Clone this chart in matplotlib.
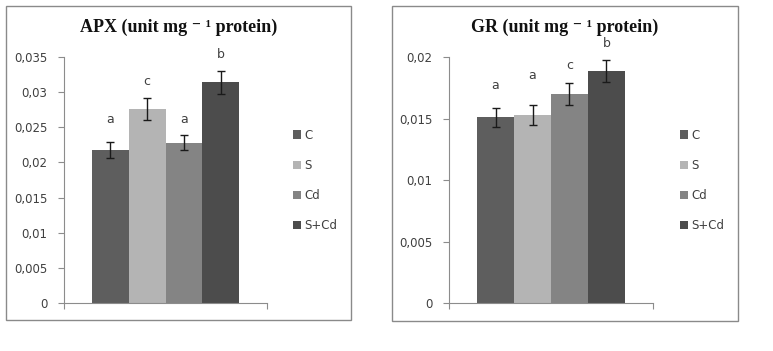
import matplotlib.pyplot as plt
from matplotlib.patches import Rectangle, Patch

# Treatments and colours (Excel-style greyscale)
groups = ["C", "S", "Cd", "S+Cd"]
colors = ["#5e5e5e", "#b4b4b4", "#848484", "#4c4c4c"]

# APX activity (unit mg-1 protein)
apx_mean = [0.0218, 0.0276, 0.0228, 0.0314]
apx_err = [0.0011, 0.0015, 0.0011, 0.0016]
apx_letters = ["a", "c", "a", "b"]
apx_letter_y = [0.0252, 0.0306, 0.0252, 0.0344]
apx_ticks = [0, 0.005, 0.01, 0.015, 0.02, 0.025, 0.03, 0.035]
apx_ticklabels = ["0", "0,005", "0,01", "0,015", "0,02", "0,025", "0,03", "0,035"]

# GR activity (unit mg-1 protein)
gr_mean = [0.0151, 0.0153, 0.0170, 0.0189]
gr_err = [0.0008, 0.0008, 0.0009, 0.0009]
gr_letters = ["a", "a", "c", "b"]
gr_letter_y = [0.0172, 0.0180, 0.0188, 0.0206]
gr_ticks = [0, 0.005, 0.01, 0.015, 0.02]
gr_ticklabels = ["0", "0,005", "0,01", "0,015", "0,02"]

W, H = 773, 351
fig = plt.figure(figsize=(W / 100, H / 100), dpi=100)

txt = "#404040"
axcol = "#8c8c8c"
title_font = ["Liberation Serif", "DejaVu Serif"]


def px_axes(x0, y_top, x1, y_bot):
    return fig.add_axes([x0 / W, (H - y_bot) / H, (x1 - x0) / W, (y_bot - y_top) / H])


def panel(box, axbox, title, mean, err, letters, letter_y, ticks, ticklabels, leg_x):
    # outer chart frame
    bx0, by0, bx1, by1 = box
    fig.patches.append(Rectangle((bx0 / W, (H - by1) / H), (bx1 - bx0) / W, (by1 - by0) / H,
                                 transform=fig.transFigure, fill=False,
                                 edgecolor="#8a8a8a", linewidth=1.0))
    ax = px_axes(*axbox)
    x = list(range(len(groups)))
    ax.bar(x, mean, width=1.0, color=colors, yerr=err, capsize=3,
           error_kw=dict(ecolor="#1a1a1a", elinewidth=1.0, capthick=1.0))
    for xi, lab, yl in zip(x, letters, letter_y):
        ax.text(xi, yl, lab, ha="center", va="bottom", fontsize=9, color=txt)
    ax.set_xlim(-1.26, 4.26)
    ax.set_ylim(0, ticks[-1])
    ax.set_yticks(ticks)
    ax.set_yticklabels(ticklabels)
    ax.set_xticks([-1.26, 4.26])
    ax.set_xticklabels([])
    ax.tick_params(axis="y", direction="out", length=4, color=axcol, labelsize=8.5,
                   labelcolor=txt, pad=8)
    ax.tick_params(axis="x", direction="out", length=4, color=axcol)
    for s in ["top", "right"]:
        ax.spines[s].set_visible(False)
    for s in ["left", "bottom"]:
        ax.spines[s].set_color(axcol)
    ax.set_facecolor("none")
    fig.text((bx0 + bx1) / 2 / W, (H - 27) / H, title, ha="center", va="center",
             fontsize=13, fontweight="bold", family=title_font, color="#111111")
    handles = [Patch(facecolor=c, edgecolor="none") for c in colors]
    leg = fig.legend(handles, groups, loc="upper left",
                     bbox_to_anchor=(leg_x / W, (H - 124) / H), frameon=False,
                     fontsize=8.5, handlelength=0.7, handleheight=0.7,
                     handletextpad=0.3, labelspacing=1.45, borderaxespad=0)
    for t in leg.get_texts():
        t.set_color(txt)
    return ax


panel((6, 6, 351, 320), (64, 57, 267, 303), "APX (unit mg \u207b \u00b9 protein)",
      apx_mean, apx_err, apx_letters, apx_letter_y, apx_ticks, apx_ticklabels, 288)
panel((392, 6, 738, 321), (449, 57.3, 653, 303), "GR (unit mg \u207b \u00b9 protein)",
      gr_mean, gr_err, gr_letters, gr_letter_y, gr_ticks, gr_ticklabels, 675)

fig.savefig("out.png", dpi=100)
